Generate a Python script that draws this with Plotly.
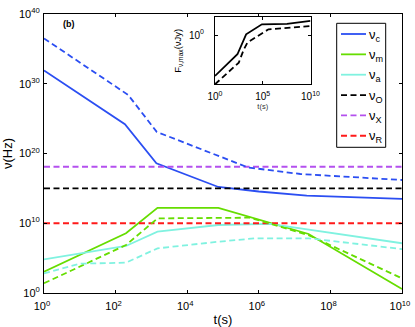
import plotly.graph_objects as go

# ---- data (log10 values) ----
t_c = [0, 2.26, 3.14, 4.87, 6.0, 7.34, 10]
nu_c = [31.9, 24.2, 18.6, 15.2, 14.55, 13.95, 13.5]
t_c2 = [0, 2.35, 3.15, 5.7, 7.16, 10]
nu_c2 = [36.5, 28.4, 23.1, 18.0, 17.06, 16.2]

t_m = [0, 2.29, 3.17, 4.87, 7.39, 10]
nu_m = [3.05, 8.56, 12.2, 12.2, 8.46, 0.57]
t_m2 = [0, 2.29, 3.17, 5.75, 7.39, 10]
nu_m2 = [1.39, 6.88, 10.7, 10.8, 8.3, 2.1]

t_a = [0, 2.29, 3.17, 4.87, 6.3, 10]
nu_a = [4.83, 6.74, 8.79, 9.75, 9.9, 7.13]
t_a2 = [0, 1.0, 2.29, 3.17, 4.87, 5.9, 7.4, 10]
nu_a2 = [2.82, 4.2, 4.35, 6.4, 7.35, 7.84, 7.84, 6.3]

t_const = [0, 10]
nu_O = 15.0
nu_X = 18.1
nu_R = 10.0

t_F = [0, 2.35, 3.26, 4.91, 7.54, 10]
F_max = [-0.83, -0.39, 0.015, 0.218, 0.225, 0.286]
t_F2 = [0, 2.49, 3.0, 3.4, 5.6, 10]
F_max2 = [-1.0, -0.56, -0.30, -0.15, 0.116, 0.184]

x_ticks = [0, 2, 4, 6, 8, 10]
y_ticks = [0, 10, 20, 30, 40]
inset_x_ticks = [0, 5, 10]
inset_y_ticks = [0]

legend_labels = ["ν<sub>c</sub>", "ν<sub>m</sub>", "ν<sub>a</sub>",
                 "ν<sub>O</sub>", "ν<sub>X</sub>", "ν<sub>R</sub>"]

BLUE = "#2b4ef2"
GREEN = "#66dd00"
CYAN = "#80f2e0"
PURPLE = "#b450ee"
RED = "#ff1a1a"
DASH = "6px,3.5px"
FONT = "Liberation Sans, Arial, sans-serif"

legend_colors = [BLUE, GREEN, CYAN, "black", PURPLE, RED]
legend_dashes = ["solid", "solid", "solid", DASH, DASH, DASH]

W, H = 415, 327
ML, MR, MT, MB = 44, 13, 14, 34
PW, PH = W - ML - MR, H - MT - MB


def p(v):
    return [10.0 ** float(x) for x in v]


def px(x):
    return (x - ML) / PW


def py(y):
    return (H - MB - y) / PH


fig = go.Figure()


def add(tx, ny, color, dash, name):
    fig.add_trace(go.Scatter(x=p(tx), y=p(ny), mode="lines", name=name,
                             showlegend=False,
                             line=dict(color=color, width=1.8, dash=dash)))


add(t_c, nu_c, BLUE, "solid", "nu_c")
add(t_m, nu_m, GREEN, "solid", "nu_m")
add(t_a, nu_a, CYAN, "solid", "nu_a")
add(t_const, [nu_O, nu_O], "black", DASH, "nu_O")
add(t_const, [nu_X, nu_X], PURPLE, DASH, "nu_X")
add(t_const, [nu_R, nu_R], RED, DASH, "nu_R")
add(t_c2, nu_c2, BLUE, DASH, "nu_c 2")
add(t_m2, nu_m2, GREEN, DASH, "nu_m 2")
add(t_a2, nu_a2, CYAN, DASH, "nu_a 2")

fig.add_trace(go.Scatter(x=p(t_F), y=p(F_max), mode="lines", showlegend=False,
                         line=dict(color="black", width=1.8),
                         xaxis="x2", yaxis="y2"))
fig.add_trace(go.Scatter(x=p(t_F2), y=p(F_max2), mode="lines", showlegend=False,
                         line=dict(color="black", width=1.8, dash=DASH),
                         xaxis="x2", yaxis="y2"))

# ---- hand-made legend box (MATLAB style) ----
shapes = [dict(type="rect", xref="paper", yref="paper",
               x0=px(336.7), x1=px(385.7), y0=py(147.3), y1=py(23.3),
               line=dict(color="black", width=1), fillcolor="white",
               layer="above")]
annotations = []
row0, drow = 34.0, 20.35
for i, (lab, col, dsh) in enumerate(zip(legend_labels, legend_colors,
                                        legend_dashes)):
    yy = row0 + i * drow
    shapes.append(dict(type="line", xref="paper", yref="paper",
                       x0=px(341), x1=px(366), y0=py(yy), y1=py(yy),
                       line=dict(color=col, width=1.8, dash=dsh),
                       layer="above"))
    annotations.append(dict(text=lab, x=px(367), y=py(yy + 1),
                            xref="paper", yref="paper", showarrow=False,
                            xanchor="left", yanchor="middle",
                            font=dict(size=13, family=FONT, color="black")))

annotations.append(dict(text="<b>(b)</b>", x=px(69), y=py(24),
                        xref="paper", yref="paper", showarrow=False,
                        font=dict(size=9, color="black"), xanchor="center",
                        yanchor="middle"))

axis_common = dict(type="log", showgrid=False, zeroline=False, showline=True,
                   linecolor="black", linewidth=1, mirror="ticks",
                   ticks="inside", ticklen=3, tickcolor="black",
                   automargin=False)

fig.update_layout(
    template="none",
    width=W, height=H,
    margin=dict(l=ML, r=MR, t=MT, b=MB),
    paper_bgcolor="white", plot_bgcolor="white",
    font=dict(family=FONT, color="black", size=11),
    showlegend=False,
    xaxis=dict(axis_common, range=[0, 10],
               tickvals=p(x_ticks),
               ticktext=[f"10<sup>{v}</sup>" for v in x_ticks],
               tickfont=dict(size=11, color="black"),
               ticklabeloverflow="allow",
               ticklabelshift=-2, ticklabelstandoff=3,
               title=dict(text="t(s)", font=dict(size=13, color="black"),
                          standoff=4)),
    yaxis=dict(axis_common, range=[0, 40],
               tickvals=p(y_ticks),
               ticktext=[f"10<sup>{v}</sup>" for v in y_ticks],
               tickfont=dict(size=11, color="black"), ticklabelstandoff=1,
               title=dict(text="ν(Hz)", font=dict(size=13, color="black"),
                          standoff=4)),
    xaxis2=dict(axis_common, range=[0, 10], domain=[px(215), px(310.5)],
                anchor="y2",
                tickvals=p(inset_x_ticks),
                ticktext=[f"10<sup>{v}</sup>" for v in inset_x_ticks],
                tickfont=dict(size=10, color="black"), ticklabelstandoff=3,
                title=dict(text="t(s)", font=dict(size=7.5, color="#333333"),
                           standoff=1)),
    yaxis2=dict(axis_common, range=[-1, 0.36],
                domain=[py(84.3), py(17.3)],
                anchor="x2",
                tickvals=p(inset_y_ticks),
                ticktext=[f"10<sup>{v}</sup>" for v in inset_y_ticks],
                tickfont=dict(size=10, color="black"), ticklabelstandoff=8,
                title=dict(text="F<sub>ν,max</sub>(νJy)",
                           font=dict(size=9.5, color="black"), standoff=5)),
    shapes=shapes,
    annotations=annotations,
)

fig.write_html(
    "out.html",
    config={"displayModeBar": False},
    post_script="document.body.style.margin='0';"
                "document.body.style.padding='0';",
)
